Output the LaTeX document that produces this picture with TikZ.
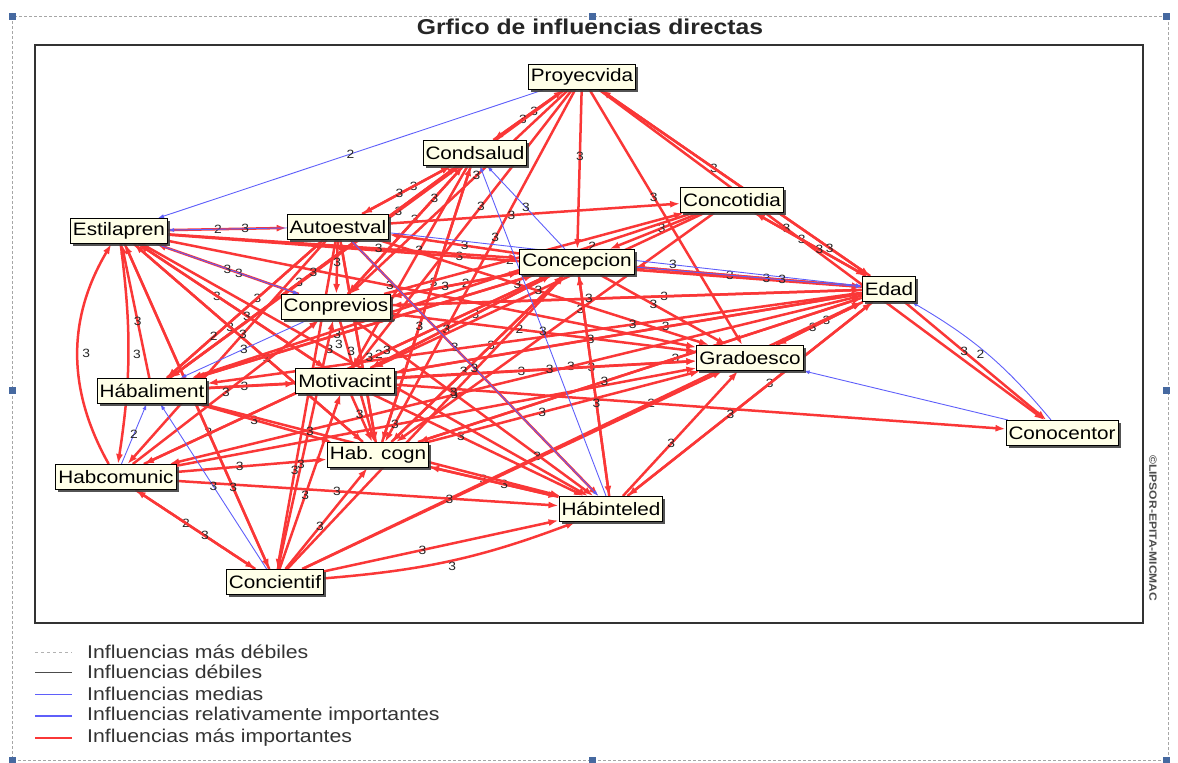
\documentclass[tikz,border=0pt]{standalone}
\usepackage{fontspec}
\setmainfont{Liberation Sans}[FakeStretch=1.15]
\usetikzlibrary{arrows.meta,shadows}
\definecolor{micred}{RGB}{250,55,55}
\definecolor{micblue}{RGB}{95,95,250}
\definecolor{boxfill}{RGB}{255,255,232}
\definecolor{handle}{RGB}{70,105,160}
\pgfdeclarelayer{links}
\pgfsetlayers{links,main}
\tikzset{
  varbox/.style={draw=black, line width=1pt, fill=boxfill,
    font=\fontsize{18}{18}\selectfont, inner xsep=2.5pt, inner ysep=0pt,
    minimum height=25pt,
    drop shadow={shadow xshift=2.5pt, shadow yshift=-2.5pt, fill=black!75, opacity=0.9}},
  redlink/.style={draw=micred, line width=2.5pt, -{Latex[length=10pt,width=7pt]}},
  bluelink/.style={draw=micblue, line width=0.9pt, -{Latex[length=6pt,width=4pt]}},
  wt/.style={font=\fontsize{12}{12}\selectfont, inner sep=0.5pt, text=black!85},
  legtext/.style={anchor=west, font=\fontsize{18.5}{18.5}\selectfont, text=black!80, inner sep=0pt},
}
\begin{document}
\begin{tikzpicture}[x=1pt,y=-1pt]
\useasboundingbox (0,0) rectangle (1178,763);

% selection frame with its handles
\draw[draw=black!35, line width=0.6pt, dash pattern=on 3pt off 2pt] (12,16) rectangle (1168,760);
\foreach \p in {(12,16),(592,16),(1166,16),(12,390),(1166,390),(12,760),(592,760),(1166,760)}
  \fill[handle] \p ++(-3.5,-3.5) rectangle ++(7,7);

% title and plot frame
\node[font=\bfseries\fontsize{21.5}{21.5}\selectfont, text=black!85] (title) at (590,27) {Grfico de influencias directas};
\draw[line width=1.6pt, black!80] (35,45) rectangle (1143,623);
\node[rotate=-90, anchor=west, font=\bfseries\fontsize{10.5}{10.5}\selectfont, text=black!70, inner sep=0pt] (copy) at (1153,455) {©LIPSOR-EPITA-MICMAC};

% variables
\node[varbox] (pv) at (582,77)  {Proyecvida};
\node[varbox] (cs) at (475,153) {Condsalud};
\node[varbox] (cc) at (732,200) {Concotidia};
\node[varbox] (ea) at (119,231) {Estilapren};
\node[varbox] (av) at (338,227) {Autoestval};
\node[varbox] (cp) at (577,262) {Concepcion};
\node[varbox] (ed) at (889,289) {Edad};
\node[varbox] (cv) at (336,307) {Conprevios};
\node[varbox] (ge) at (750,358) {Gradoesco};
\node[varbox] (mi) at (345,381) {Motivacint};
\node[varbox] (ha) at (152,391) {Hábaliment};
\node[varbox] (hc) at (378,455) {Hab. cogn};
\node[varbox] (hm) at (116,477) {Habcomunic};
\node[varbox] (co) at (1062,433) {Conocentor};
\node[varbox] (hi) at (611,509) {Hábinteled};
\node[varbox] (ci) at (275,582) {Concientif};

% influences
\begin{pgfonlayer}{links}
% most important influences, weight at 0.42 of the way
\foreach \s/\t/\w in {
  pv/cs/3, cs/pv/3, pv/cv/3, pv/mi/3, pv/hc/3, pv/cp/3, pv/ge/3, pv/ed/3, pv/ha/3, pv/co/3,
  cs/av/3, av/cs/3, cs/cv/3, cs/hc/3, cs/mi/3,
  cc/ed/3, ed/cc/3, av/cc/3, cv/cc/2, cc/cp/3, cc/hc/3,
  ea/av/2, ea/ed/3, ea/mi/3, ea/hc/3, ea/hi/3, ea/ge/3,
  ha/ea/3, mi/ea/3, hc/ea/3, ci/ea/3, cv/ea/3,
  av/cv/3, av/hi/3, av/ge/3, av/ha/3, av/hm/3,
  cp/av/3, cp/cv/2, cp/hc/3, cp/mi/3, cp/ha/3, cp/hm/2, cp/hi/3, cp/ge/3, cp/ed/3,
  ed/cp/3, ed/cv/3, ed/mi/3, ed/hc/3, ed/hi/3, ed/ge/3, ge/ed/3, ed/co/3, ed/hm/3,
  cv/cp/3, cv/ed/3, cv/ge/2, cv/hi/3,
  ha/mi/3, ha/hc/3, ha/cp/3,
  mi/hc/3, mi/ge/3, mi/hi/3, mi/co/2, mi/cp/3, mi/ed/3,
  hm/hc/3, hm/hi/3, hm/ge/3, hm/ci/2, ci/hm/3,
  hc/hi/3, hc/ge/3, hc/ed/3, hc/cp/3, hc/cs/3,
  ci/hi/3, ci/hc/3, ci/ed/3, ci/mi/3, ci/cv/3,
  hi/ge/3, hi/hc/3, hi/cp/3, hi/ed/3}
  \draw[redlink] (\s) -- node[wt,pos=0.42]{\w} (\t);
% same, with the weight moved clear of the boxes
\foreach \s/\t/\w/\q in {
  ed/pv/3/0.15, ed/ha/3/0.35, cc/mi/3/0.5, cc/ha/2/0.2, cs/ha/3/0.55, ea/cp/3/0.6, ea/ci/3/0.75, av/ci/3/0.7,
  cv/cs/3/0.75, ha/hi/3/0.3, ha/ge/3/0.7, ha/cs/3/0.5, ha/av/2/0.3,
  hm/cv/3/0.5, hm/cp/3/0.6, ci/cp/3/0.6, ci/ge/3/0.35}
  \draw[redlink] (\s) -- node[wt,pos=\q]{\w} (\t);
\draw[redlink] (cv) -- node[wt,pos=0.2,left=2pt]{3} (hc);
\draw[redlink] (av) -- node[wt,pos=0.55,left=3pt]{3} (hc);
\draw[redlink] (hc) -- node[wt,pos=0.42,right=3pt]{3} (av);
\draw[redlink] (hm) to[bend left=30] node[wt,right=3pt]{3} (ea);
\draw[redlink] (ea) to[bend left=8] node[wt,right=3pt]{3} (hm);
\draw[redlink] (ci) to[bend right=8] node[wt,below]{3} (hi);

% medium influences
\foreach \s/\t/\w/\q in {
  pv/ea/2/0.5, av/ea/3/0.35, ea/cv/3/0.5, hm/ha/2/0.5, ci/ha/3/0.5, hi/cs/3/0.5, cp/cs/3/0.5,
  av/ed/3/0.6, cp/ed/3/0.65, av/hi/3/0.5, cv/ha/3/0.5}
  \draw[bluelink] (\s) -- node[wt,pos=\q]{\w} (\t);
\draw[bluelink] (co) -- (ge);
\draw[bluelink] (co) to[bend right=10] node[wt,left=2pt]{2} (ed);
\end{pgfonlayer}

% legend
\draw[black!30, line width=1pt, dash pattern=on 3pt off 3pt] (35,652) -- (72,652);
\node[legtext] (l1) at (87,652) {Influencias más débiles};
\draw[black!70, line width=0.8pt] (35,672) -- (72,672);
\node[legtext] (l2) at (87,672) {Influencias débiles};
\draw[micblue, line width=0.9pt] (35,694) -- (72,694);
\node[legtext] (l3) at (87,694) {Influencias medias};
\draw[micblue, line width=2.2pt] (35,716) -- (72,716);
\node[legtext] (l4) at (87,716) {Influencias relativamente importantes};
\draw[micred, line width=2.6pt] (35,738) -- (72,738);
\node[legtext] (l5) at (87,738) {Influencias más importantes};
\end{tikzpicture}
\end{document}
